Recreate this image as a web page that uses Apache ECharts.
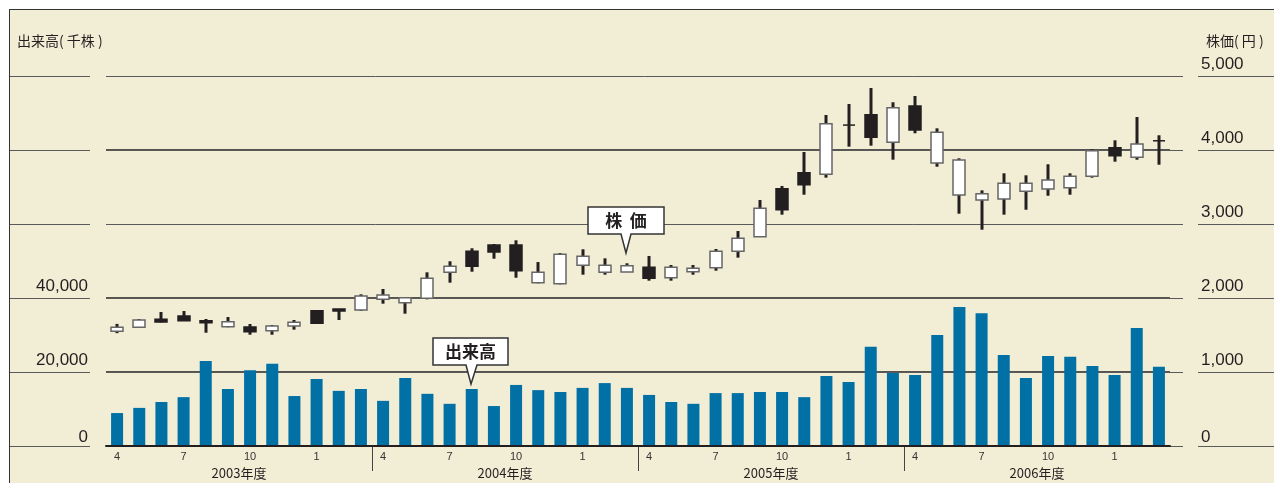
<!DOCTYPE html>
<html>
<head>
<meta charset="utf-8">
<script src="https://cdn.jsdelivr.net/npm/echarts@6/dist/echarts.min.js"></script>
<style>
  html, body { margin: 0; padding: 0; background: #fff; overflow: hidden; }
  #frame { position: absolute; left: 9px; top: 9px; width: 1300px; height: 500px;
           background: #F2EDD5; border: 1.5px solid #333; }
  #main { position: absolute; left: 0; top: 0; width: 1274px; height: 483px; }
</style>
</head>
<body>
<div id="frame"></div>
<div id="main"></div>
<script>
// months Apr 2003 .. Mar 2007 (fiscal years)
var months = ['4','5','6','7','8','9','10','11','12','1','2','3',
              '4','5','6','7','8','9','10','11','12','1','2','3',
              '4','5','6','7','8','9','10','11','12','1','2','3',
              '4','5','6','7','8','9','10','11','12','1','2','3'];
var years = ['2003年度', '2004年度', '2005年度', '2006年度'];

// 出来高 (千株)
var volume = [8900, 10300, 11900, 13200, 23000, 15400, 20500, 22200, 13500, 18100, 14900, 15400,
              12200, 18400, 14100, 11400, 15400, 10800, 16500, 15100, 14600, 15700, 17000, 15700,
              13800, 11900, 11400, 14300, 14300, 14600, 14600, 13200, 18900, 17300, 26800, 19700,
              19200, 30000, 37600, 35900, 24600, 18400, 24300, 24100, 21600, 19200, 31900, 21400];

// 株価 (円)
var openP  = [1550, 1604, 1712, 1757, 1693, 1612, 1608, 1558, 1622, 1828, 1851, 1838,
              1982, 1936, 1996, 2347, 2631, 2716, 2716, 2207, 2193, 2442, 2347, 2351,
              2415, 2274, 2355, 2410, 2631, 2828, 3477, 3693, 3671, 4340, 4477, 4104,
              4595, 3824, 3392, 3324, 3338, 3442, 3473, 3491, 3645, 4031, 3901, 4128];
var closeP = [1605, 1703, 1676, 1693, 1666, 1680, 1545, 1622, 1672, 1658, 1824, 2027,
              2041, 2004, 2266, 2428, 2428, 2622, 2369, 2347, 2591, 2564, 2442, 2436,
              2266, 2415, 2401, 2631, 2807, 3212, 3193, 3531, 4355, 4336, 4172, 4572,
              4270, 4239, 3865, 3409, 3550, 3550, 3595, 3645, 3991, 3923, 4081, 4124];
var lowP   = [1525, 1600, 1670, 1690, 1531, 1605, 1504, 1504, 1572, 1649, 1703, 1828,
              1923, 1788, 1982, 2207, 2355, 2531, 2274, 2199, 2185, 2315, 2315, 2351,
              2234, 2234, 2315, 2369, 2545, 2828, 3126, 3396, 3626, 4045, 4058, 3869,
              4226, 3774, 3139, 2923, 3126, 3193, 3382, 3396, 3626, 3842, 3869, 3801];
var highP  = [1650, 1716, 1811, 1824, 1716, 1743, 1649, 1635, 1703, 1838, 1851, 2050,
              2122, 2004, 2347, 2496, 2672, 2730, 2780, 2486, 2608, 2658, 2536, 2469,
              2568, 2446, 2446, 2662, 2905, 3324, 3514, 3973, 4473, 4622, 4838, 4645,
              4730, 4293, 3888, 3455, 3685, 3658, 3807, 3685, 4009, 4131, 4446, 4199];

var volTicks = [0, 20000, 40000];
var separators = [11, 23, 35];

var candles = openP.map(function (o, i) { return [i, o, closeP[i], lowP[i], highP[i]]; });

var font = '"Liberation Sans", Arial, "Noto Sans CJK JP", sans-serif';
var jfont = '"Noto Sans CJK JP", sans-serif';
var ink = '#231F20';

function renderCandle(params, api) {
  var i = api.value(0);
  var o = api.value(1), c = api.value(2), l = api.value(3), h = api.value(4);
  var pO = api.coord([i, o]), pC = api.coord([i, c]);
  var pL = api.coord([i, l]), pH = api.coord([i, h]);
  var x = Math.round(pO[0]);
  var w = 12;
  var top = Math.min(pO[1], pC[1]), bot = Math.max(pO[1], pC[1]);
  var up = c > o;
  var doji = Math.abs(c - o) < 10;
  var body;
  if (doji) {
    body = { type: 'rect', shape: { x: x - w / 2, y: top - 0.5, width: w, height: 1.5 },
             style: { fill: ink } };
  } else {
    body = { type: 'rect', shape: { x: x - w / 2, y: top, width: w, height: Math.max(bot - top, 2) },
             style: { fill: up ? '#fff' : ink, stroke: up ? '#666' : ink, lineWidth: 1.5 } };
  }
  return {
    type: 'group',
    children: [
      { type: 'line', shape: { x1: x, y1: pH[1], x2: x, y2: pL[1] },
        style: { stroke: ink, lineWidth: 3 } },
      body
    ]
  };
}

function renderSep(params, api) {
  var i = api.value(0);
  var p = api.coord([i, 0]);
  var bw = api.size([1, 0])[0];
  var x = Math.round(p[0] + bw / 2) + 0.5;
  return { type: 'line', shape: { x1: x, y1: p[1], x2: x, y2: p[1] + 25 },
           style: { stroke: '#444', lineWidth: 1 } };
}

function grayGrid(idx) {
  return {
    gridIndex: idx, type: 'value', min: 0, max: 5000, interval: 1000,
    axisLine: { show: false }, axisTick: { show: false }, axisLabel: { show: false },
    splitLine: { lineStyle: { color: '#5a5a5a', width: 1 } }
  };
}
function hiddenX(idx) {
  return { gridIndex: idx, type: 'value', min: 0, max: 1, show: false };
}

// zero labels sit a little lower than the others
function tickLabel(v) {
  return v === 0 ? '{z|0}' : '{n|' + v.toLocaleString('en-US') + '}';
}
var labelRich = {
  n: { fontSize: 17, fontFamily: font, color: ink, padding: [0, 0, 3, 0] },
  z: { fontSize: 17, fontFamily: font, color: ink, padding: [0, 0, 0, 0] }
};

var chart = echarts.init(document.getElementById('main'));
chart.setOption({
  animation: false,
  backgroundColor: 'transparent',
  grid: [
    { left: 106, right: 104, top: 76, bottom: 37 },
    { left: 10, width: 80, top: 76, bottom: 37 },
    { left: 106, width: 1077, top: 76, bottom: 37 },
    { left: 1198, width: 90, top: 76, bottom: 37 }
  ],
  xAxis: [
    {
      gridIndex: 0, type: 'category', data: months,
      axisLine: { lineStyle: { color: ink, width: 2 } },
      axisTick: { show: false },
      axisLabel: {
        interval: function (i) { return i % 3 === 0; },
        color: '#333', fontSize: 11, fontFamily: font, margin: 5
      },
      z: 5
    },
    {
      gridIndex: 0, type: 'category', data: years, position: 'bottom', offset: 17,
      axisLine: { show: false }, axisTick: { show: false },
      axisLabel: { color: ink, fontSize: 13, fontFamily: jfont, margin: 4 }
    },
    hiddenX(1), hiddenX(2), hiddenX(3)
  ],
  yAxis: [
    {
      gridIndex: 0, type: 'value', min: 0, max: 100000, interval: 20000, position: 'left',
      axisLine: { show: false }, axisTick: { show: false }, splitLine: { show: false },
      axisLabel: {
        formatter: function (v) { return volTicks.indexOf(v) >= 0 ? tickLabel(v) : ''; },
        rich: labelRich, margin: 18, verticalAlign: 'bottom'
      }
    },
    {
      gridIndex: 0, type: 'value', min: 0, max: 5000, interval: 1000, position: 'right',
      axisLine: { show: false }, axisTick: { show: false },
      splitLine: { lineStyle: { color: [ink, ink, ink, 'rgba(0,0,0,0)', ink, 'rgba(0,0,0,0)'], width: 1.5 } },
      axisLabel: {
        formatter: tickLabel,
        rich: labelRich, margin: 31, verticalAlign: 'bottom'
      }
    },
    grayGrid(1), grayGrid(2), grayGrid(3)
  ],
  series: [
    {
      name: '出来高', type: 'bar', xAxisIndex: 0, yAxisIndex: 0,
      data: volume, barWidth: 12, itemStyle: { color: '#0070A5' }, z: 3
    },
    {
      name: '株価', type: 'custom', xAxisIndex: 0, yAxisIndex: 1,
      renderItem: renderCandle, data: candles,
      encode: { x: 0, y: [1, 2, 3, 4] }, z: 4
    },
    {
      name: 'sep', type: 'custom', xAxisIndex: 0, yAxisIndex: 1,
      renderItem: renderSep, data: separators.map(function (s) { return [s]; }),
      encode: { x: 0 }, clip: false, silent: true, z: 4
    }
  ],
  graphic: [
    { type: 'text', left: 17, top: 34,
      style: { text: '出来高( 千株 )', font: '14px ' + jfont, fill: ink } },
    { type: 'text', left: 1206, top: 34,
      style: { text: '株価( 円 )', font: '14px ' + jfont, fill: ink } },
    { type: 'polygon', z: 10,
      shape: { points: [[588, 207], [664, 207], [664, 234], [631, 234], [626, 253], [621, 234], [588, 234]] },
      style: { fill: '#fff', stroke: '#333', lineWidth: 1.5 } },
    { type: 'text', z: 11, x: 626, y: 221,
      style: { text: '株  価', font: 'bold 17px ' + jfont, fill: ink, align: 'center', verticalAlign: 'middle' } },
    { type: 'polygon', z: 10,
      shape: { points: [[433, 338], [508, 338], [508, 365], [477, 365], [471, 384], [466, 365], [433, 365]] },
      style: { fill: '#fff', stroke: '#333', lineWidth: 1.5 } },
    { type: 'text', z: 11, x: 470.5, y: 352,
      style: { text: '出来高', font: 'bold 17px ' + jfont, fill: ink, align: 'center', verticalAlign: 'middle' } }
  ]
});
</script>
</body>
</html>
